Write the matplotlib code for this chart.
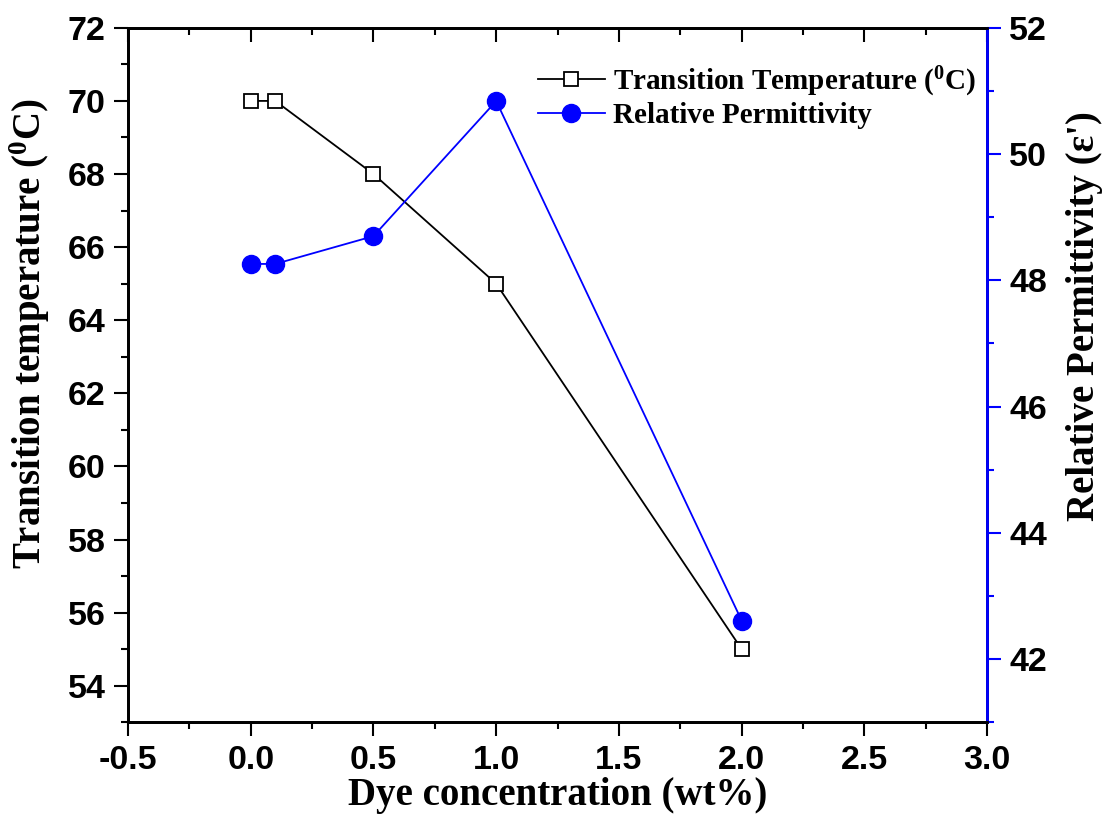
import matplotlib
matplotlib.use("Agg")
import matplotlib.pyplot as plt
from matplotlib.ticker import MultipleLocator

# data
dye_conc = [0.0, 0.1, 0.5, 1.0, 2.0]
trans_temp = [70, 70, 68, 65, 55]
permittivity = [48.26, 48.26, 48.70, 50.84, 42.61]

plt.rcParams["mathtext.fontset"] = "custom"
plt.rcParams["mathtext.rm"] = "Liberation Serif:bold"
plt.rcParams["mathtext.bf"] = "Liberation Serif:bold"
plt.rcParams["mathtext.it"] = "Liberation Serif:bold"

TICKFONT = dict(family="Liberation Sans", weight="bold", size=24.5)
LABELFONT = dict(family="Liberation Serif", weight="bold", size=28)

fig = plt.figure(figsize=(11.03, 8.18), dpi=100)
ax = fig.add_axes([0.116, 0.117, 0.779, 0.849])
ax2 = ax.twinx()

l1, = ax.plot(dye_conc, trans_temp, color="black", lw=1.3, marker="s",
              markersize=10, markerfacecolor="white", markeredgecolor="black",
              markeredgewidth=1.3, label="Transition Temperature ($^0$C)")
l2, = ax2.plot(dye_conc, permittivity, color="blue", lw=1.3, marker="o",
               markersize=13, markerfacecolor="blue", markeredgecolor="blue",
               label="Relative Permittivity")

ax.set_xlim(-0.5, 3.0)
ax.set_ylim(53, 72)
ax2.set_ylim(41, 52)

ax.xaxis.set_major_locator(MultipleLocator(0.5))
ax.xaxis.set_minor_locator(MultipleLocator(0.25))
ax.yaxis.set_major_locator(MultipleLocator(2))
ax.yaxis.set_minor_locator(MultipleLocator(1))
ax2.yaxis.set_major_locator(MultipleLocator(2))
ax2.yaxis.set_minor_locator(MultipleLocator(1))
ax.set_xticks([-0.5, 0.0, 0.5, 1.0, 1.5, 2.0, 2.5, 3.0])
ax.set_xticklabels(["-0.5", "0.0", "0.5", "1.0", "1.5", "2.0", "2.5", "3.0"])

for a in (ax, ax2):
    for s in a.spines.values():
        s.set_linewidth(2)
ax2.spines["right"].set_color("blue")

ax.tick_params(axis="x", which="major", direction="out", length=10, width=1.5,
               top=True, pad=6)
ax.tick_params(axis="x", which="minor", direction="out", length=5, width=1.5, top=True)
# top ticks point inward
for t in ax.xaxis.get_major_ticks() + ax.xaxis.get_minor_ticks():
    t.tick2line.set_marker(3)
ax.tick_params(axis="y", which="major", direction="out", length=10, width=1.5, pad=6)
ax.tick_params(axis="y", which="minor", direction="out", length=5, width=1.5)
ax2.tick_params(axis="y", which="major", direction="out", length=10, width=1.5,
                color="blue", pad=6)
ax2.tick_params(axis="y", which="minor", direction="out", length=5, width=1.5,
                color="blue")

for lab in ax.get_xticklabels() + ax.get_yticklabels() + ax2.get_yticklabels():
    lab.set_fontproperties(matplotlib.font_manager.FontProperties(**TICKFONT))

ax.set_xlabel("Dye concentration (wt%)", fontdict=LABELFONT)
ax.set_ylabel("Transition temperature ($^0$C)", fontdict=LABELFONT)
ax.yaxis.set_label_coords(-0.088, 0.56)
ax2.set_ylabel("Relative Permittivity (\u03b5')", fontdict=LABELFONT)
ax2.yaxis.set_label_coords(1.092, 0.585)

leg = ax.legend(handles=[l1, l2], loc="upper right", bbox_to_anchor=(1.018, 0.985),
                frameon=False, handlelength=2.3, handletextpad=0.3,
                labelspacing=0.12,
                prop=dict(family="Liberation Serif", weight="bold", size=21))

# squeeze the x label in between the tick labels and the bottom edge
fig.canvas.draw()
r = fig.canvas.get_renderer()
tick_bottom = min(t.get_window_extent(r).y0 for t in ax.get_xticklabels())
y_ax = ax.transAxes.inverted().transform((0, tick_bottom - 1))[1]
ax.xaxis.set_label_coords(0.5, y_ax)
size = 28
while size > 18:
    ax.xaxis.label.set_fontsize(size)
    if ax.xaxis.label.get_window_extent(r).y0 >= 1:
        break
    size -= 0.5

fig.savefig("out.png", dpi=100)
